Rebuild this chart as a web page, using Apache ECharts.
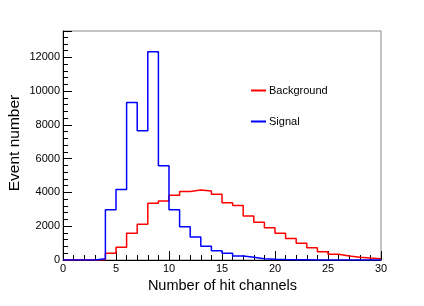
<!DOCTYPE html>
<html>
<head>
<meta charset="utf-8">
<script src="https://cdn.jsdelivr.net/npm/echarts@6/dist/echarts.min.js"></script>
<style>html,body{margin:0;padding:0;background:#fff}#c{width:424px;height:306px}</style>
</head>
<body>
<div id="c"></div>
<script>
var binLow = [0,1,2,3,4,5,6,7,8,9,10,11,12,13,14,15,16,17,18,19,20,21,22,23,24,25,26,27,28,29];
var binWidth = 1;
var signal = [0,0,0,80,2980,4180,9320,7660,12330,5580,2970,1970,1360,810,550,400,240,160,80,40,25,15,10,6,4,3,2,1,1,0];
var background = [0,0,5,20,400,750,1580,2110,3355,3490,3830,4060,4140,4080,3900,3390,3220,2600,2230,1910,1580,1280,990,720,490,337,237,160,118,77];
var xTicks = [0,5,10,15,20,25,30];
var yTicks = [0,2000,4000,6000,8000,10000,12000];

function histData(vals){
  var d = binLow.map(function(x,i){ return [x, vals[i]]; });
  d.push([binLow[binLow.length-1] + binWidth, vals[vals.length-1]]);
  return d;
}
var font = 'Liberation Sans, Arial, Helvetica, sans-serif';
var chart = echarts.init(document.getElementById('c'), null, {renderer:'canvas'});
chart.setOption({
  animation:false,
  backgroundColor:'#fff',
  grid:{left:63,right:43,top:31,bottom:46,show:true,borderColor:'#888',borderWidth:1,backgroundColor:'transparent'},
  xAxis:{type:'value',min:xTicks[0],max:xTicks[xTicks.length-1],interval:5,
    axisLine:{lineStyle:{color:'#000',width:1}},
    axisTick:{inside:true,length:9,lineStyle:{color:'#000'}},
    minorTick:{show:true,splitNumber:5,length:5,lineStyle:{color:'#000'}},
    splitLine:{show:false},
    axisLabel:{color:'#000',fontSize:11,fontFamily:font,margin:3}},
  yAxis:{type:'value',min:0,max:13560,interval:2000,
    axisLine:{lineStyle:{color:'#000',width:1}},
    axisTick:{inside:true,length:9,lineStyle:{color:'#000'}},
    minorTick:{show:true,splitNumber:5,length:5,lineStyle:{color:'#000'}},
    splitLine:{show:false},
    axisLabel:{color:'#000',fontSize:11,fontFamily:font,margin:3,showMaxLabel:false,
      formatter:function(v){ return yTicks.indexOf(v)>=0 ? String(v) : ''; }}},
  legend:{orient:'vertical',left:246,top:80,itemGap:20,itemWidth:15,itemHeight:2,icon:'rect',
    textStyle:{fontSize:11,fontFamily:font,color:'#000',padding:[0,0,0,-2]},
    data:['Background','Signal']},
  graphic:[
    {type:'text',right:127,top:278,style:{text:'Number of hit channels',font:'14.5px '+font,fill:'#000'}},
    {type:'text',x:15,y:143,rotation:Math.PI/2,style:{text:'Event number',font:'15.5px '+font,fill:'#000',textAlign:'center',textVerticalAlign:'middle'}}
  ],
  series:[
    {name:'Background',type:'line',step:'end',data:histData(background),showSymbol:false,
     lineStyle:{color:'#ff0000',width:1.5},itemStyle:{color:'#ff0000'}},
    {name:'Signal',type:'line',step:'end',data:histData(signal),showSymbol:false,
     lineStyle:{color:'#0000ff',width:1.5},itemStyle:{color:'#0000ff'}}
  ]
});
</script>
</body>
</html>
